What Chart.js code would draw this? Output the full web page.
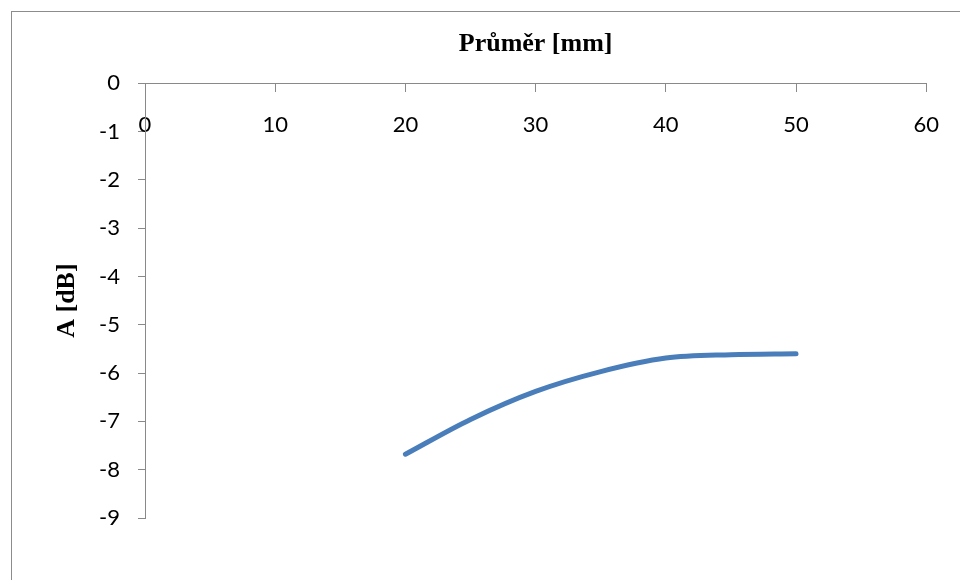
<!DOCTYPE html>
<html lang="cs">
<head>
<meta charset="utf-8">
<title>Průměr [mm]</title>
<script src="https://cdn.jsdelivr.net/npm/chart.js@4"></script>
<style>
    html, body { margin: 0; padding: 0; background: #fff; overflow: hidden; }
    #wrap { position: relative; width: 960px; height: 580px; overflow: hidden; }
    /* outer chart frame, runs off the right and bottom edge like the source */
    #frame { position: absolute; left: 11px; top: 11px; width: 1200px; height: 1000px; border: 1px solid #8c8c8c; box-sizing: border-box; }
    #diameterChart { position: absolute; left: 0; top: 0; }
</style>
</head>
<body>
<div id="wrap">
    <div id="frame"></div>
    <canvas id="diameterChart" width="960" height="580"></canvas>
</div>
<script>
// --- data ---
const diameters = [20, 25, 30, 35, 40, 45, 50];                      // Průměr [mm]
const attenuation = [-7.68, -6.96, -6.38, -5.97, -5.69, -5.62, -5.6]; // A [dB]
const xTicks = [0, 10, 20, 30, 40, 50, 60];
const yTicks = [0, -1, -2, -3, -4, -5, -6, -7, -8, -9];

const AXIS_GRAY = '#898989';
const LINE_BLUE = '#4a7ebb';

let diameterChartInstance = null;

/**
 * draws the attenuation vs diameter chart
 */
function renderDiameterChart() {
    if (typeof Chart === 'undefined') {
        console.warn('Chart.js is not loaded.');
        return;
    }

    const points = diameters.map((d, i) => ({ x: d, y: attenuation[i] }));

    const config = {
        type: 'line',
        data: {
            datasets: [{
                label: 'A [dB]',
                data: points,
                borderColor: LINE_BLUE,
                backgroundColor: LINE_BLUE,
                borderWidth: 5,
                borderCapStyle: 'round',
                borderJoinStyle: 'round',
                tension: 0.33, // ~ catmull-rom, like the spreadsheet "smoothed line"
                pointRadius: 0,
                pointHoverRadius: 0,
                fill: false
            }]
        },
        options: {
            responsive: false,
            animation: false,
            events: [],
            layout: {
                padding: { top: 0, left: 0, right: 31, bottom: 62 }
            },
            plugins: {
                legend: { display: false },
                tooltip: { enabled: false },
                title: {
                    display: true,
                    fullSize: false, // center over the plot area, not the whole canvas
                    text: 'Průměr [mm]',
                    color: '#000',
                    font: { family: '"Liberation Serif", "Times New Roman", serif', size: 26, weight: 'bold' },
                    padding: { top: 29, bottom: 23 }
                }
            },
            scales: {
                x: {
                    type: 'linear',
                    position: { y: 0 }, // axis crosses at A = 0, labels hang below it
                    min: xTicks[0],
                    max: xTicks[xTicks.length - 1],
                    afterBuildTicks: scale => { scale.ticks = xTicks.map(v => ({ value: v })); },
                    afterFit: scale => { scale.height = 0; },
                    grid: {
                        drawOnChartArea: false,
                        drawTicks: true,
                        tickLength: 8,
                        color: AXIS_GRAY
                    },
                    border: { display: true, color: AXIS_GRAY, width: 1 },
                    ticks: {
                        color: '#000',
                        padding: 21,
                        maxRotation: 0,
                        font: { family: 'Lato, "Open Sans", sans-serif', size: 22 }
                    }
                },
                y: {
                    type: 'linear',
                    position: 'left',
                    min: yTicks[yTicks.length - 1],
                    max: yTicks[0],
                    afterBuildTicks: scale => { scale.ticks = yTicks.map(v => ({ value: v })); },
                    afterFit: scale => { scale.width = 145; },
                    grid: {
                        drawOnChartArea: false,
                        drawTicks: true,
                        tickLength: 7,
                        color: AXIS_GRAY
                    },
                    border: { display: true, color: AXIS_GRAY, width: 1 },
                    ticks: {
                        color: '#000',
                        padding: 18,
                        font: { family: 'Lato, "Open Sans", sans-serif', size: 22 }
                    },
                    title: {
                        display: true,
                        text: 'A [dB]',
                        color: '#000',
                        font: { family: '"Liberation Serif", "Times New Roman", serif', size: 26, weight: 'bold' },
                        padding: { top: 52, bottom: 0 }
                    }
                }
            }
        }
    };

    const canvas = document.getElementById('diameterChart');
    if (!canvas) {
        console.error('Chart canvas not found');
        return;
    }
    if (diameterChartInstance) {
        diameterChartInstance.destroy();
    }
    diameterChartInstance = new Chart(canvas.getContext('2d'), config);
}

document.addEventListener('DOMContentLoaded', renderDiameterChart);
</script>
</body>
</html>
